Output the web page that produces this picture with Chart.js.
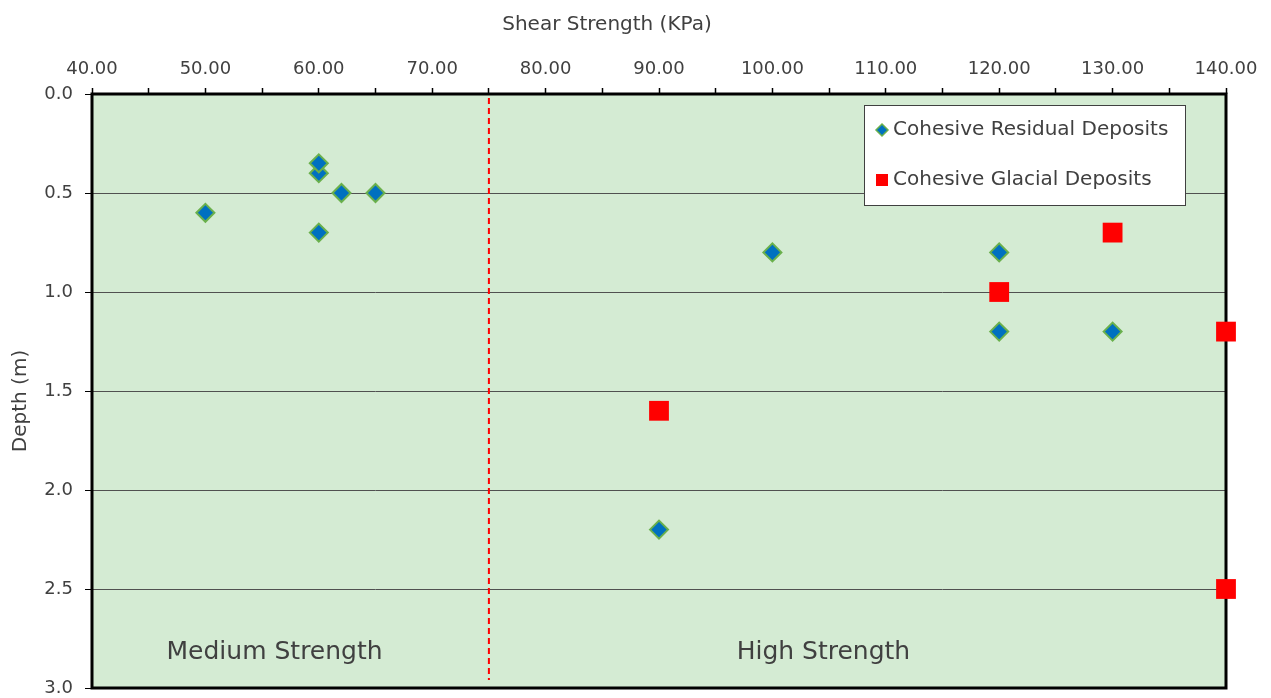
<!DOCTYPE html>
<html>
<head>
<meta charset="utf-8">
<script src="https://cdn.jsdelivr.net/npm/chart.js@4"></script>
<style>
  html, body { margin: 0; padding: 0; background: #fff; }
</style>
</head>
<body>
<canvas id="chart" width="1271" height="698"></canvas>
<script>
// shear strength (KPa) vs depth (m)
const residualStrength = [50, 60, 60, 62, 65, 60, 100, 120, 120, 130, 90];
const residualDepth = [0.6, 0.4, 0.35, 0.5, 0.5, 0.7, 0.8, 0.8, 1.2, 1.2, 2.2];
const glacialStrength = [130, 120, 140, 90, 140];
const glacialDepth = [0.7, 1.0, 1.2, 1.6, 2.5];
const dividerStrength = [75, 75];
const dividerDepth = [0.02, 2.96];
const regionLabels = ['Medium Strength', 'High Strength'];
const regionStrength = [56.1, 104.5];
const regionDepth = [2.82, 2.82];
const seriesNames = ['Cohesive Residual Deposits', 'Cohesive Glacial Deposits'];

const FONT = 'DejaVu Sans';
const TEXT = '#404040';
const BLUE = '#0070C0';
const GREEN = '#6AB04C';
const RED = '#FF0000';

const toPoints = (xs, ys) => xs.map((x, i) => ({ x: x, y: ys[i] }));

const decorations = {
  id: 'decorations',
  beforeDraw(chart) {
    const { ctx, chartArea: a } = chart;
    ctx.save();
    ctx.fillStyle = '#D4EBD3';
    ctx.fillRect(a.left, a.top, a.right - a.left, a.bottom - a.top);
    ctx.restore();
  },
  beforeDatasetsDraw(chart) {
    const { ctx, chartArea: a } = chart;
    ctx.save();
    ctx.strokeStyle = '#000';
    ctx.lineWidth = 3;
    ctx.strokeRect(a.left, a.top, a.right - a.left, a.bottom - a.top);
    ctx.restore();
  },
  afterDatasetsDraw(chart) {
    const { ctx, scales } = chart;
    ctx.save();
    ctx.fillStyle = TEXT;
    ctx.textBaseline = 'middle';

    // region labels
    ctx.font = '25px "' + FONT + '"';
    ctx.textAlign = 'center';
    regionLabels.forEach((t, i) => {
      ctx.fillText(t, scales.x.getPixelForValue(regionStrength[i]), scales.y.getPixelForValue(regionDepth[i]));
    });

    // axis titles
    ctx.font = '20px "' + FONT + '"';
    ctx.fillText('Shear Strength (KPa)', 607, 25);
    ctx.save();
    ctx.translate(21, 401);
    ctx.rotate(-Math.PI / 2);
    ctx.fillText('Depth (m)', 0, 0);
    ctx.restore();

    // legend
    const lx = 864.5, ly = 105.5;
    ctx.fillStyle = '#fff';
    ctx.fillRect(lx, ly, 321, 100);
    ctx.strokeStyle = '#404040';
    ctx.lineWidth = 1;
    ctx.strokeRect(lx, ly, 321, 100);

    ctx.beginPath();
    ctx.moveTo(882, 124); ctx.lineTo(888, 130); ctx.lineTo(882, 136); ctx.lineTo(876, 130);
    ctx.closePath();
    ctx.fillStyle = BLUE;
    ctx.fill();
    ctx.strokeStyle = GREEN;
    ctx.lineWidth = 1.5;
    ctx.stroke();

    ctx.fillStyle = RED;
    ctx.fillRect(876, 174, 12, 12);

    ctx.fillStyle = TEXT;
    ctx.font = '20px "' + FONT + '"';
    ctx.textAlign = 'left';
    ctx.fillText(seriesNames[0], 893, 130);
    ctx.fillText(seriesNames[1], 893, 180);
    ctx.restore();
  }
};

new Chart(document.getElementById('chart'), {
  type: 'scatter',
  data: {
    datasets: [
      {
        type: 'line',
        label: 'divider',
        data: toPoints(dividerStrength, dividerDepth),
        borderColor: RED,
        borderWidth: 2,
        borderDash: [6, 4],
        pointRadius: 0,
        fill: false,
      },
      {
        label: seriesNames[0],
        data: toPoints(residualStrength, residualDepth),
        pointStyle: 'rectRot',
        pointRadius: 9,
        backgroundColor: BLUE,
        borderColor: GREEN,
        borderWidth: 2,
        clip: false,
      },
      {
        label: seriesNames[1],
        data: toPoints(glacialStrength, glacialDepth),
        pointStyle: 'rect',
        pointRadius: 14,
        backgroundColor: RED,
        borderColor: RED,
        borderWidth: 0,
        clip: false,
      },
    ],
  },
  options: {
    responsive: false,
    animation: false,
    layout: {
      autoPadding: false,
      padding: { left: 0, top: 0, right: 45, bottom: 10 },
    },
    plugins: {
      legend: { display: false },
      tooltip: { enabled: false },
    },
    scales: {
      x: {
        type: 'linear',
        position: 'top',
        min: 40,
        max: 140,
        afterFit: (s) => { s.height = 94; },
        ticks: {
          stepSize: 5,
          autoSkip: false,
          maxRotation: 0,
          padding: 8,
          color: TEXT,
          font: { family: FONT, size: 18 },
          callback: (v) => (v % 10 === 0 ? v.toFixed(2) : ''),
        },
        grid: {
          drawOnChartArea: false,
          tickLength: 6,
          tickColor: '#000',
          tickWidth: 1.5,
        },
        border: { display: false },
      },
      y: {
        type: 'linear',
        reverse: true,
        min: 0,
        max: 3,
        afterFit: (s) => { s.width = 92; s.paddingTop = 0; s.paddingBottom = 0; },
        ticks: {
          stepSize: 0.5,
          padding: 12,
          color: TEXT,
          font: { family: FONT, size: 18 },
          callback: (v) => v.toFixed(1),
        },
        grid: {
          color: '#505050',
          lineWidth: 1,
          tickLength: 7,
          tickColor: '#000',
        },
        border: { display: false },
      },
    },
  },
  plugins: [decorations],
});
</script>
</body>
</html>
